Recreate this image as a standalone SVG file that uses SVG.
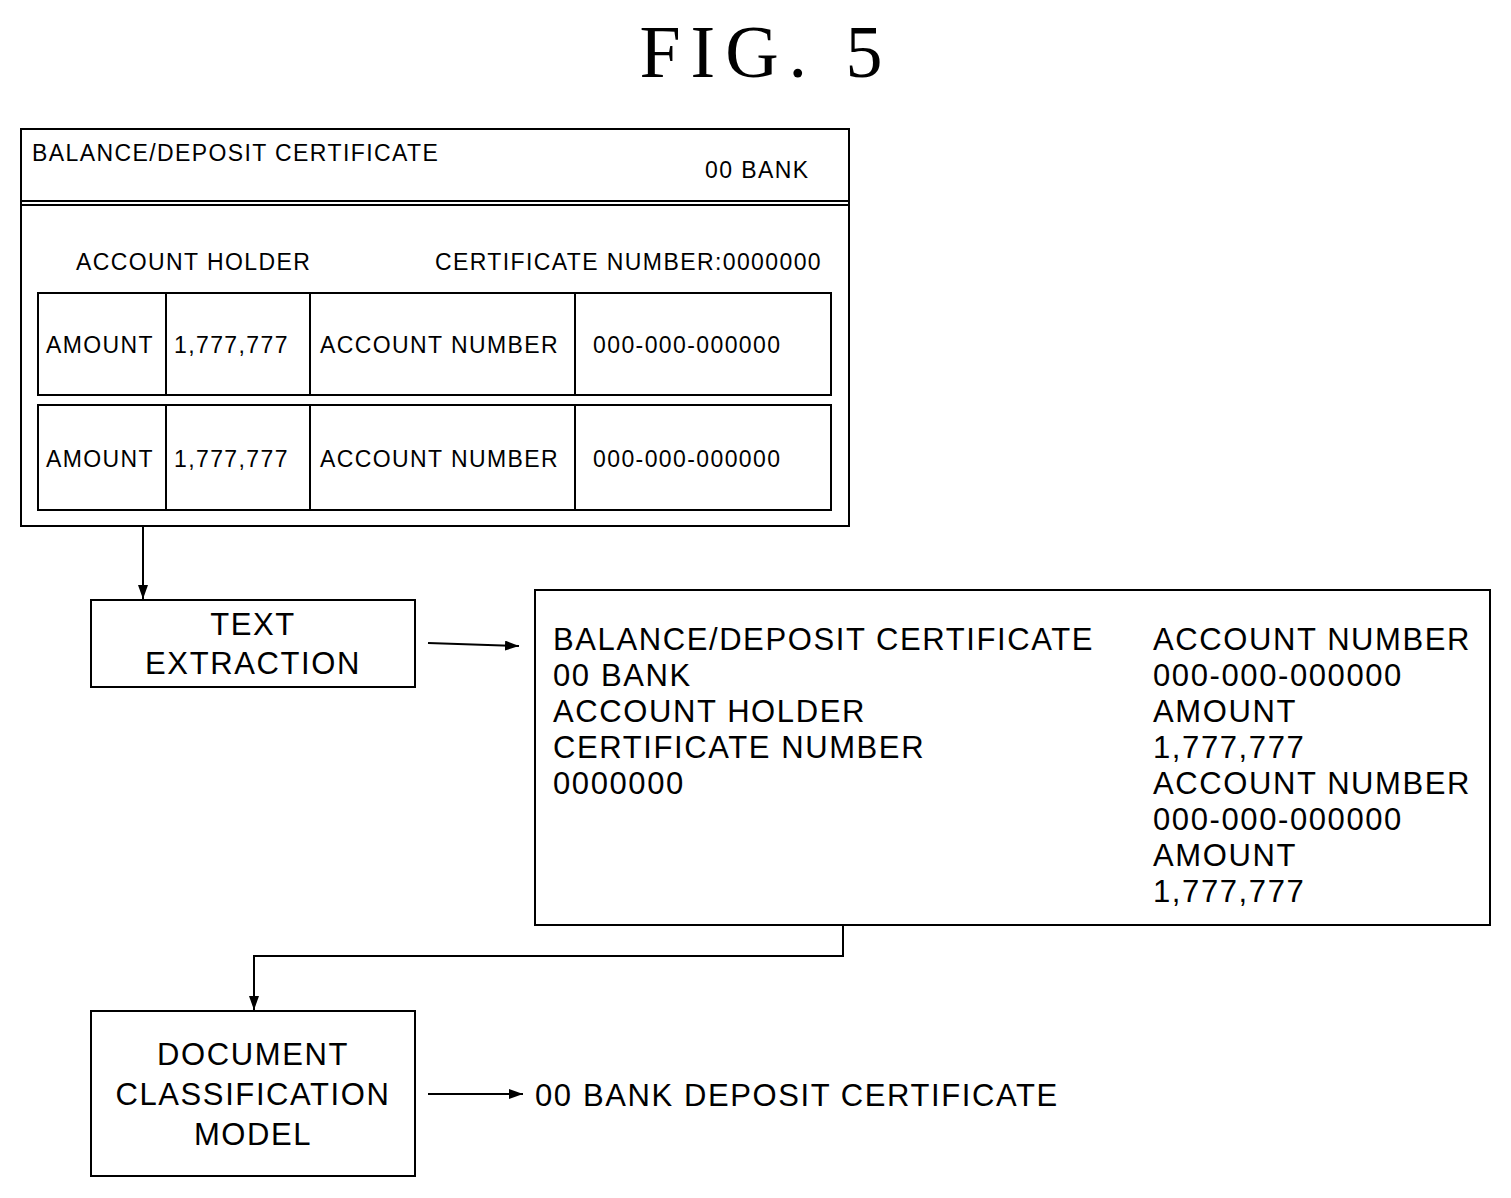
<svg xmlns="http://www.w3.org/2000/svg" width="1511" height="1198" viewBox="0 0 1511 1198">
<style>
.b{fill:none;stroke:#000;stroke-width:2}
.t{font-family:"Liberation Sans",Arial,sans-serif;fill:#000}
.s{font-size:23px;letter-spacing:1.4px}
.l{font-size:31px;letter-spacing:1.6px}
.c{text-anchor:middle}
</style>
<defs><marker id="a" markerWidth="14" markerHeight="10" refX="14" refY="5" orient="auto" markerUnits="userSpaceOnUse"><path d="M0,0L14,5L0,10z" fill="#000"/></marker></defs>
<rect width="1511" height="1198" fill="#fff"/>
<text x="766" y="77" class="c" font-family="Liberation Serif,serif" font-size="74" letter-spacing="10">FIG. 5</text>
<g id="document">
<rect class="b" x="21" y="129" width="828" height="397"/>
<line class="b" x1="21" y1="201" x2="849" y2="201"/>
<line class="b" x1="21" y1="205" x2="849" y2="205"/>
<text class="t s" x="32" y="161">BALANCE/DEPOSIT CERTIFICATE</text>
<text class="t s" x="705" y="178">00 BANK</text>
<text class="t s" x="76" y="270">ACCOUNT HOLDER</text>
<text class="t s" x="435" y="270">CERTIFICATE NUMBER:0000000</text>
<rect class="b" x="38" y="293" width="793" height="102"/>
<line class="b" x1="166" y1="293" x2="166" y2="395"/><line class="b" x1="310" y1="293" x2="310" y2="395"/><line class="b" x1="575" y1="293" x2="575" y2="395"/>
<text class="t s" x="46" y="353">AMOUNT</text><text class="t s" x="174" y="353">1,777,777</text><text class="t s" x="320" y="353">ACCOUNT NUMBER</text><text class="t s" x="593" y="353">000-000-000000</text>
<rect class="b" x="38" y="405" width="793" height="105"/>
<line class="b" x1="166" y1="405" x2="166" y2="510"/><line class="b" x1="310" y1="405" x2="310" y2="510"/><line class="b" x1="575" y1="405" x2="575" y2="510"/>
<text class="t s" x="46" y="467">AMOUNT</text><text class="t s" x="174" y="467">1,777,777</text><text class="t s" x="320" y="467">ACCOUNT NUMBER</text><text class="t s" x="593" y="467">000-000-000000</text>
</g>
<g id="text-extraction">
<rect class="b" x="91" y="600" width="324" height="87"/>
<text class="t l c" x="253" y="635">TEXT</text><text class="t l c" x="253" y="674">EXTRACTION</text>
</g>
<g id="extracted-text">
<rect class="b" x="535" y="590" width="955" height="335"/>
<g class="t l">
<text x="553" y="650">BALANCE/DEPOSIT CERTIFICATE</text><text x="553" y="686">00 BANK</text><text x="553" y="722">ACCOUNT HOLDER</text><text x="553" y="758">CERTIFICATE NUMBER</text><text x="553" y="794">0000000</text>
<text x="1153" y="650">ACCOUNT NUMBER</text><text x="1153" y="686">000-000-000000</text><text x="1153" y="722">AMOUNT</text><text x="1153" y="758">1,777,777</text><text x="1153" y="794">ACCOUNT NUMBER</text><text x="1153" y="830">000-000-000000</text><text x="1153" y="866">AMOUNT</text><text x="1153" y="902">1,777,777</text>
</g>
</g>
<g id="classification-model">
<rect class="b" x="91" y="1011" width="324" height="165"/>
<text class="t l c" x="253" y="1065">DOCUMENT</text><text class="t l c" x="253" y="1105">CLASSIFICATION</text><text class="t l c" x="253" y="1145">MODEL</text>
</g>
<g id="result"><text class="t l" x="535" y="1106">00 BANK DEPOSIT CERTIFICATE</text></g>
<g id="connectors">
<line class="b" x1="143" y1="526" x2="143" y2="599" marker-end="url(#a)"/>
<line class="b" x1="428" y1="643" x2="519" y2="646" marker-end="url(#a)"/>
<polyline class="b" points="843,925 843,956 254,956 254,1010" marker-end="url(#a)"/>
<line class="b" x1="428" y1="1094" x2="523" y2="1094" marker-end="url(#a)"/>
</g>
</svg>
